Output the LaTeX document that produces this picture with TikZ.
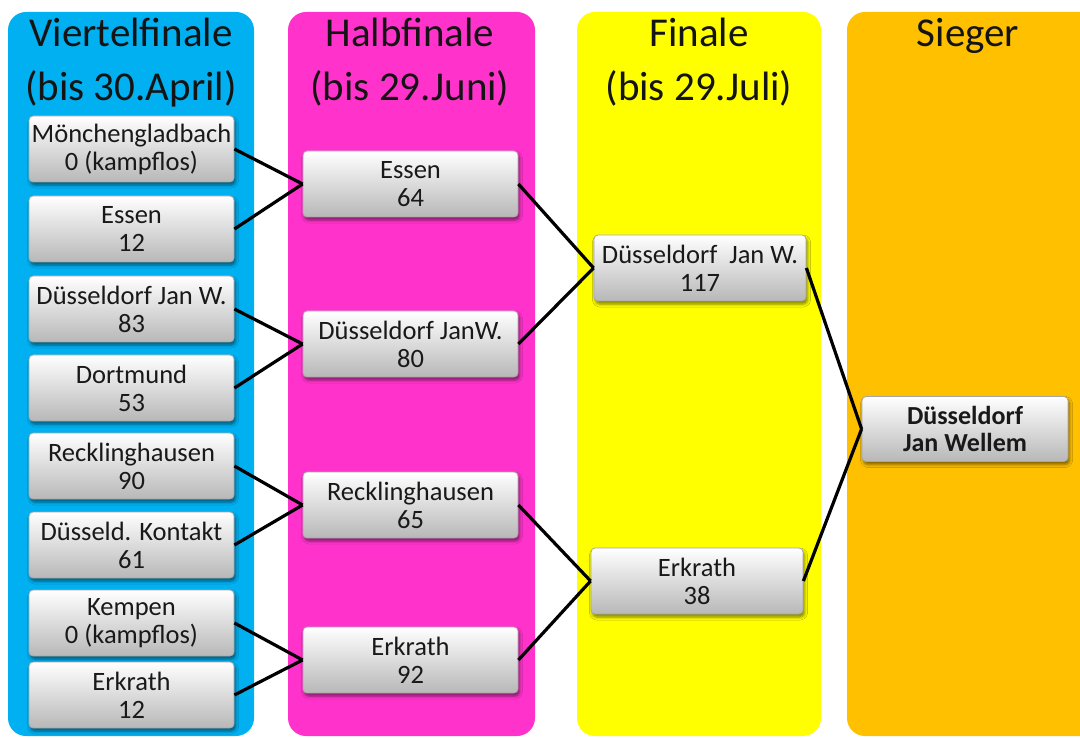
\documentclass[tikz,border=0pt]{standalone}
\usepackage{fontspec}
\setmainfont{Carlito}
\usetikzlibrary{shadows.blur}
\definecolor{colblue}{HTML}{00B0F0}
\definecolor{colpink}{HTML}{FF33CC}
\definecolor{colyellow}{HTML}{FFFF00}
\definecolor{colorange}{HTML}{FFC000}
\tikzset{
  col/.style={rounded corners=18pt},
  head/.style={font=\fontsize{41}{45}\selectfont, anchor=base, text=black!92, inner sep=0pt},
  team/.style={draw=black!35, line width=0.8pt, rounded corners=4pt,
    top color=white, bottom color=black!28,
    minimum height=66pt, align=center, text=black!90,
    font=\fontsize{26.5}{28}\selectfont, inner sep=0pt,
    blur shadow={shadow xshift=1.5pt, shadow yshift=-3pt, shadow blur radius=3pt, shadow opacity=50}},
  lteam/.style={team, minimum width=205pt},
  mteam/.style={team, minimum width=215pt},
  fteam/.style={team, minimum width=212pt},
  wteam/.style={team, minimum width=206pt, minimum height=65pt, font=\fontsize{26}{27}\selectfont\bfseries},
  link/.style={line width=3.2pt, black}
}
\begin{document}
\begin{tikzpicture}[x=1pt,y=-1pt]
\useasboundingbox (0,0) rectangle (1080,738);
\fill[white] (0,0) rectangle (1080,738);
% columns
\begin{scope}
\clip (0,0) rectangle (1080,738);
\fill[colblue, col] (8,12) rectangle (254,736);
\fill[colpink, col] (288,12) rectangle (535,736);
\fill[colyellow, col] (577,12) rectangle (821,736);
\fill[colorange, col] (847,12) rectangle (1110,736);
\end{scope}
% headers
\node[head] (t1) at (131,47) {Viertelfinale};
\node[head] (d1) at (131,101) {(bis 30.April)};
\node[head] (t2) at (410,47) {Halbfinale};
\node[head] (d2) at (410,101) {(bis 29.Juni)};
\node[head] (t3) at (699,47) {Finale};
\node[head] (d3) at (699,101) {(bis 29.Juli)};
\node[head] (t4) at (968,47) {Sieger};
% quarter finals
\node[lteam] (v1) at (131.5,149) {Mönchengladbach\\0 (kampflos)};
\node[lteam] (v2) at (131.5,229) {Essen\\12};
\node[lteam] (v3) at (131.5,309) {Düsseldorf Jan W.\\83};
\node[lteam] (v4) at (131.5,388) {Dortmund\\53};
\node[lteam] (v5) at (131.5,466) {Recklinghausen\\90};
\node[lteam] (v6) at (131.5,545) {Düsseld. Kontakt\\61};
\node[lteam] (v7) at (131.5,623) {Kempen\\0 (kampflos)};
\node[lteam] (v8) at (131.5,695) {Erkrath\\12};
% semi finals
\node[mteam] (h1) at (410.5,184) {Essen\\64};
\node[mteam] (h2) at (410.5,344) {Düsseldorf JanW.\\80};
\node[mteam] (h3) at (410.5,505) {Recklinghausen\\65};
\node[mteam] (h4) at (410.5,660) {Erkrath\\92};
% finals
\node[fteam] (f1) at (700,268) {Düsseldorf\ \ Jan W.\\117};
\node[fteam] (f2) at (697,581) {Erkrath\\38};
% winner
\node[wteam] (w) at (965,429) {Düsseldorf\\Jan Wellem};
% connectors
\draw[link] (v1.east) -- (h1.west);
\draw[link] (v2.east) -- (h1.west);
\draw[link] (v3.east) -- (h2.west);
\draw[link] (v4.east) -- (h2.west);
\draw[link] (v5.east) -- (h3.west);
\draw[link] (v6.east) -- (h3.west);
\draw[link] (v7.east) -- (h4.west);
\draw[link] (v8.east) -- (h4.west);
\draw[link] (h1.east) -- (f1.west);
\draw[link] (h2.east) -- (f1.west);
\draw[link] (h3.east) -- (f2.west);
\draw[link] (h4.east) -- (f2.west);
\draw[link] (f1.east) -- (w.west);
\draw[link] (f2.east) -- (w.west);
\end{tikzpicture}
\end{document}
